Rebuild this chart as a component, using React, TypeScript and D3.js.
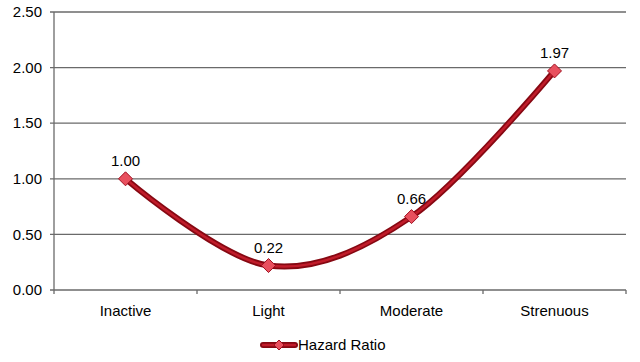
import React, { useEffect, useRef } from 'react';
import * as d3 from 'd3';

const categories = ['Inactive', 'Light', 'Moderate', 'Strenuous'];
const hazardRatio = [1.0, 0.22, 0.66, 1.97];
const yTicks = [0, 0.5, 1.0, 1.5, 2.0, 2.5];
const seriesName = 'Hazard Ratio';

export default function App() {
  const svgRef = useRef<SVGSVGElement>(null);

  useEffect(() => {
    if (!svgRef.current) return;
    const svg = d3.select(svgRef.current);
    svg.selectAll('*').remove();

    const W = 640;
    const H = 362;
    const left = 54;
    const right = 626;
    const top = 12;
    const bottom = 290;

    svg.attr('width', W).attr('height', H);
    svg.append('rect').attr('width', W).attr('height', H).attr('fill', '#fff');

    const x = d3.scaleBand().domain(categories).range([left, right]);
    const y = d3.scaleLinear().domain([0, 2.5]).range([bottom, top]);

    const font = 'Arial, "Liberation Sans", sans-serif';
    const fs = '15px';
    const gridColor = '#6a6a6a';

    // gridlines + y labels
    yTicks.forEach(t => {
      svg.append('line')
        .attr('x1', left - 4).attr('x2', right)
        .attr('y1', y(t)).attr('y2', y(t))
        .attr('stroke', gridColor).attr('stroke-width', 1.3);
      svg.append('text')
        .attr('x', 42).attr('y', y(t)).attr('dy', '0.35em')
        .attr('text-anchor', 'end')
        .style('font-family', font).style('font-size', fs).style('fill', '#000')
        .text(t.toFixed(2));
    });

    // y axis line
    svg.append('line')
      .attr('x1', left).attr('x2', left)
      .attr('y1', top).attr('y2', bottom)
      .attr('stroke', gridColor).attr('stroke-width', 1.3);

    // x ticks at band boundaries
    const bounds = categories.map(c => x(c)!).concat([right]);
    bounds.forEach(b => {
      svg.append('line')
        .attr('x1', b).attr('x2', b)
        .attr('y1', bottom).attr('y2', bottom + 4)
        .attr('stroke', gridColor).attr('stroke-width', 1.3);
    });

    categories.forEach(c => {
      svg.append('text')
        .attr('x', x(c)! + x.bandwidth() / 2).attr('y', 311)
        .attr('dy', '0.35em')
        .attr('text-anchor', 'middle')
        .style('font-family', font).style('font-size', fs).style('fill', '#000')
        .text(c);
    });

    const pts: [number, number][] = categories.map((c, i) => [
      x(c)! + x.bandwidth() / 2,
      y(hazardRatio[i]),
    ]);

    const line = d3.line().curve(d3.curveCatmullRom.alpha(0));

    svg.append('path')
      .attr('d', line(pts))
      .attr('fill', 'none')
      .attr('stroke', '#860812')
      .attr('stroke-width', 6)
      .attr('stroke-linecap', 'round');
    svg.append('path')
      .attr('d', line(pts))
      .attr('fill', 'none')
      .attr('stroke', '#c01c2a')
      .attr('stroke-width', 2.5)
      .attr('stroke-linecap', 'round');

    const diamond = (cx: number, cy: number, r: number) =>
      `M${cx},${cy - r}L${cx + r},${cy}L${cx},${cy + r}L${cx - r},${cy}Z`;

    pts.forEach(([px, py], i) => {
      svg.append('path')
        .attr('d', diamond(px, py, 7))
        .attr('fill', '#e8505e')
        .attr('stroke', '#a01020')
        .attr('stroke-width', 1);
      svg.append('text')
        .attr('x', px).attr('y', py - 18)
        .attr('dy', '0.35em')
        .attr('text-anchor', 'middle')
        .style('font-family', font).style('font-size', fs).style('fill', '#000')
        .text(hazardRatio[i].toFixed(2));
    });

    // legend
    const ly = 345;
    svg.append('line')
      .attr('x1', 263).attr('x2', 295).attr('y1', ly).attr('y2', ly)
      .attr('stroke', '#860812').attr('stroke-width', 6).attr('stroke-linecap', 'round');
    svg.append('line')
      .attr('x1', 263).attr('x2', 295).attr('y1', ly).attr('y2', ly)
      .attr('stroke', '#c01c2a').attr('stroke-width', 2.5).attr('stroke-linecap', 'round');
    svg.append('path')
      .attr('d', diamond(279, ly, 5))
      .attr('fill', '#e8505e').attr('stroke', '#a01020').attr('stroke-width', 1);
    svg.append('text')
      .attr('x', 298).attr('y', ly).attr('dy', '0.35em')
      .style('font-family', font).style('font-size', fs).style('fill', '#000')
      .text(seriesName);
  }, []);

  return (
    <div style={{ position: 'absolute', left: 0, top: 0 }}>
      <svg ref={svgRef} style={{ display: 'block' }} />
    </div>
  );
}
